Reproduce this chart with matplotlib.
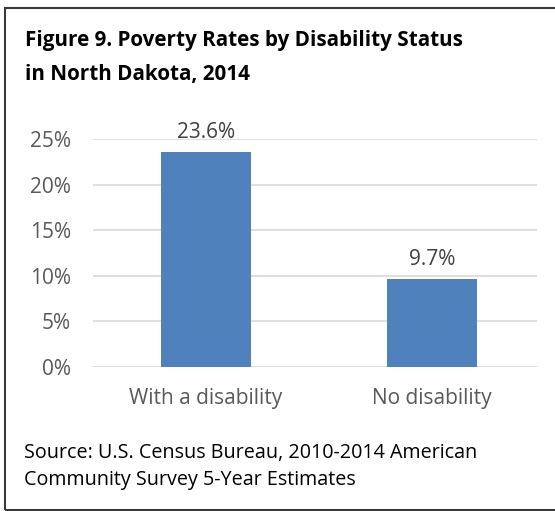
import matplotlib.pyplot as plt
from matplotlib.patches import Rectangle

# data
categories = ["With a disability", "No disability"]
rates = [23.6, 9.7]
rate_labels = ["23.6%", "9.7%"]
yticks = [0, 5, 10, 15, 20, 25]
ytick_labels = ["0%", "5%", "10%", "15%", "20%", "25%"]

W, H = 555, 511
fig = plt.figure(figsize=(W / 100, H / 100), dpi=100)
plt.rcParams['font.family'] = ['Open Sans', 'DejaVu Sans']

# frame around the figure (right side runs off the image)
fig.patches.append(Rectangle((5 / W, 1 - 510 / H), 560 / W, (510 - 8) / H,
                             transform=fig.transFigure, fill=False,
                             edgecolor="#3a3a3a", linewidth=1.5))

# title and source
fig.text(25 / W, 1 - 46 / H, "Figure 9. Poverty Rates by Disability Status",
         fontsize=14.9, fontweight="bold", color="black", va="baseline")
fig.text(25 / W, 1 - 80 / H, "in North Dakota, 2014",
         fontsize=14.9, fontweight="bold", color="black", va="baseline")
fig.text(24 / W, 1 - 458 / H, "Source: U.S. Census Bureau, 2010-2014 American",
         fontsize=14.2, color="black", va="baseline")
fig.text(24 / W, 1 - 485 / H, "Community Survey 5-Year Estimates",
         fontsize=14.2, color="black", va="baseline")

# chart
ax = fig.add_axes([93 / W, 1 - 367 / H, (537 - 93) / W, (367 - 139) / H])
x = range(len(categories))
bars = ax.bar(x, rates, width=0.4, color="#4F81BD", zorder=3)
ax.set_xlim(-0.5, 1.465)
ax.set_ylim(0, 25)
ax.set_yticks(yticks)
ax.set_yticklabels(ytick_labels)
ax.set_xticks(list(x))
ax.set_xticklabels(categories)
ax.tick_params(axis="both", length=0, labelsize=15, labelcolor="#595959")
ax.tick_params(axis="y", pad=16)
ax.tick_params(axis="x", pad=15)
ax.grid(axis="y", color="#D9D9D9", linewidth=1.2, zorder=0)
for s in ax.spines.values():
    s.set_visible(False)

for b, lab in zip(bars, rate_labels):
    ax.annotate(lab, (b.get_x() + b.get_width() / 2, b.get_height()),
                xytext=(0, 6), textcoords="offset points", ha="center",
                va="bottom", fontsize=15, color="#404040")

fig.savefig("out.png", dpi=100)
